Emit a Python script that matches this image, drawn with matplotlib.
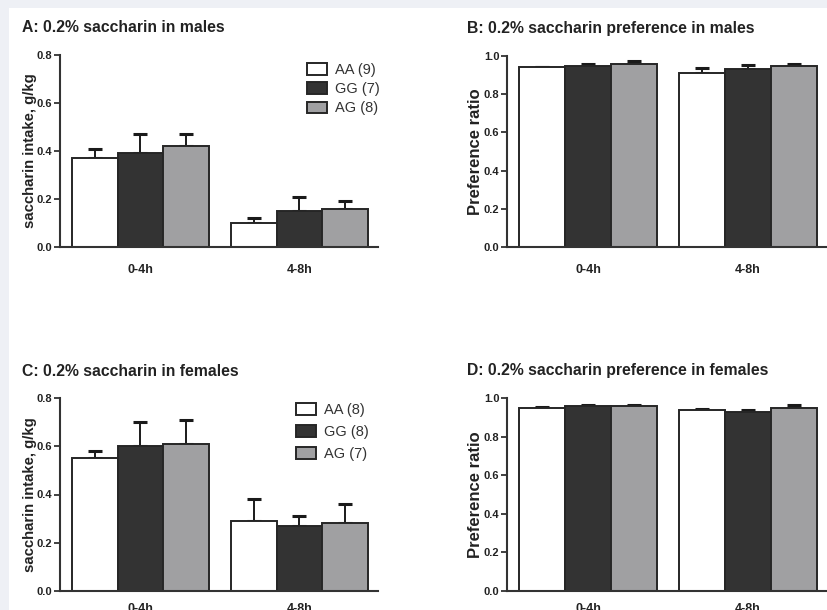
import matplotlib
matplotlib.use("Agg")
import matplotlib.pyplot as plt
from matplotlib.patches import Rectangle
import numpy as np

plt.rcParams['font.family'] = ['Liberation Sans', 'DejaVu Sans']

periods = ["0-4h", "4-8h"]
genotypes = ["AA", "GG", "AG"]
colors = ["#ffffff", "#333333", "#a0a0a2"]

# Panel A: intake males (g/kg)
a_mean = {"AA": [0.37, 0.10], "GG": [0.39, 0.15], "AG": [0.42, 0.16]}
a_err = {"AA": [0.04, 0.02], "GG": [0.08, 0.06], "AG": [0.05, 0.03]}
a_n = {"AA": 9, "GG": 7, "AG": 8}
# Panel B: preference males
b_mean = {"AA": [0.94, 0.91], "GG": [0.95, 0.93], "AG": [0.96, 0.95]}
b_err = {"AA": [0.003, 0.025], "GG": [0.008, 0.022], "AG": [0.012, 0.008]}
# Panel C: intake females
c_mean = {"AA": [0.55, 0.29], "GG": [0.60, 0.27], "AG": [0.61, 0.28]}
c_err = {"AA": [0.03, 0.09], "GG": [0.10, 0.04], "AG": [0.10, 0.08]}
c_n = {"AA": 8, "GG": 8, "AG": 7}
# Panel D: preference females
d_mean = {"AA": [0.95, 0.94], "GG": [0.96, 0.93], "AG": [0.96, 0.95]}
d_err = {"AA": [0.004, 0.005], "GG": [0.004, 0.006], "AG": [0.004, 0.012]}

W, H = 828, 610
fig = plt.figure(figsize=(W / 100, H / 100), dpi=100)
fig.patch.set_facecolor("#eef0f5")
fig.patches.append(Rectangle((9 / W, 0), 1, 1 - 8 / H, transform=fig.transFigure,
                             facecolor="white", edgecolor="none", zorder=-10))

txt = "#222222"
edge = "#262626"


def fr(x0, y_top, x1, y_bot):
    return [x0 / W, 1 - y_bot / H, (x1 - x0) / W, (y_bot - y_top) / H]


def panel(rect, means, errs, ymax, yticks, ylabel, ylsize, title, title_xy, labx,
          ns=None, leg_xy=None, legfs=10.5, legsp=0.35, xpad=12):
    ax = fig.add_axes(rect)
    ax.set_facecolor("none")
    bw = 0.286
    x = np.arange(len(periods))
    for i, g in enumerate(genotypes):
        xs = x + (i - 1) * bw
        ax.bar(xs, means[g], width=bw, color=colors[i], edgecolor=edge, linewidth=1.4,
               zorder=2, label=f"{g} ({ns[g]})" if ns else g)
        ax.errorbar(xs, means[g], yerr=[np.zeros(2), errs[g]], fmt="none",
                    ecolor="#1a1a1a", elinewidth=1.4, capsize=5, capthick=2.2, zorder=1)
    ax.set_xlim(-0.506, 1.494)
    ax.set_ylim(0, ymax)
    ax.set_yticks(yticks)
    ax.set_yticklabels([f"{t:.1f}" for t in yticks], fontsize=8, fontweight="bold", color=txt)
    ax.set_xticks(x)
    ax.set_xticklabels(periods, fontsize=9, fontweight="bold", color=txt)
    ax.tick_params(axis="x", length=0, pad=xpad)
    ax.tick_params(axis="y", length=4, width=1.3, color="#333333", pad=1.5)
    for s in ["top", "right"]:
        ax.spines[s].set_visible(False)
    for s in ["left", "bottom"]:
        ax.spines[s].set_linewidth(1.5)
        ax.spines[s].set_color("#333333")
    ax.set_ylabel(ylabel, fontsize=ylsize, fontweight="bold", color=txt)
    ax.yaxis.set_label_coords(labx, rect[1] + rect[3] / 2, transform=fig.transFigure)
    fig.text(title_xy[0] / W, 1 - title_xy[1] / H, title, fontsize=11.3, fontweight="bold",
             color=txt, ha="left", va="center")
    if leg_xy is not None:
        leg = ax.legend(loc="upper left", bbox_to_anchor=(leg_xy[0] / W, 1 - leg_xy[1] / H),
                        bbox_transform=fig.transFigure, frameon=False, fontsize=legfs,
                        handlelength=1.35, handleheight=0.8, handletextpad=0.6,
                        labelspacing=legsp, borderaxespad=0, borderpad=0)
        for t in leg.get_texts():
            t.set_color("#333333")
    return ax


axA = panel(fr(60, 55, 378, 247), a_mean, a_err, 0.8, [0.0, 0.2, 0.4, 0.6, 0.8],
            "saccharin intake, g/kg", 10.7, "A: 0.2% saccharin in males", (22, 28), 37 / W,
            ns=a_n, leg_xy=(307, 63), legfs=10.5, legsp=0.35)
axB = panel(fr(507, 56, 827, 247), b_mean, b_err, 1.0, [0.0, 0.2, 0.4, 0.6, 0.8, 1.0],
            "Preference ratio", 12, "B: 0.2% saccharin preference in males", (467, 28), 483 / W)
axC = panel(fr(60, 398, 378, 591), c_mean, c_err, 0.8, [0.0, 0.2, 0.4, 0.6, 0.8],
            "saccharin intake, g/kg", 10.7, "C: 0.2% saccharin in females", (22, 371), 37 / W,
            ns=c_n, leg_xy=(296, 403), legfs=10.5, legsp=0.55, xpad=9)
axD = panel(fr(507, 398, 827, 591), d_mean, d_err, 1.0, [0.0, 0.2, 0.4, 0.6, 0.8, 1.0],
            "Preference ratio", 12, "D: 0.2% saccharin preference in females", (467, 371), 483 / W,
            xpad=9)

fig.savefig("out.png", dpi=100, facecolor=fig.get_facecolor())
